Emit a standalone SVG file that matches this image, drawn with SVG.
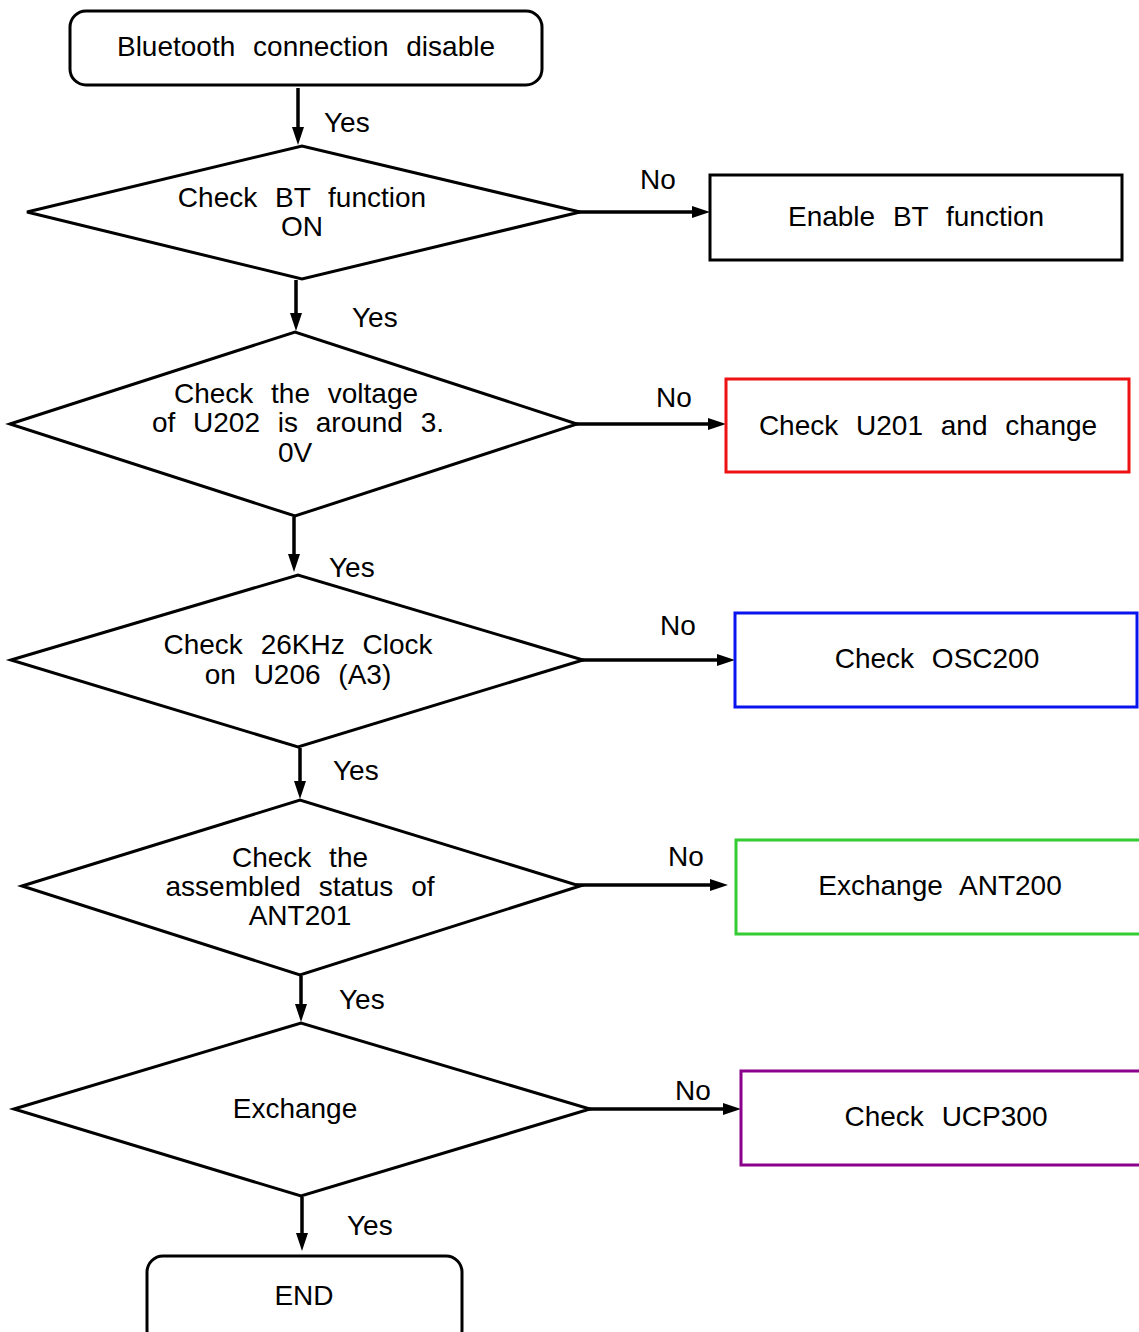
<svg xmlns="http://www.w3.org/2000/svg" width="1139" height="1332" viewBox="0 0 1139 1332">
<defs>
<marker id="ah" markerUnits="userSpaceOnUse" markerWidth="18" markerHeight="12" refX="4" refY="6" orient="auto">
<path d="M0,0 L18,6 L0,12 z" fill="#000"/>
</marker>
<style>
.t{font-family:"Liberation Sans",Arial,sans-serif;font-size:28px;word-spacing:10px;fill:#000;text-anchor:middle}
.l{font-family:"Liberation Sans",Arial,sans-serif;font-size:28px;fill:#000}
.s{fill:#fff;stroke:#000;stroke-width:3}
.c{stroke:#000;stroke-width:3.5;fill:none}
</style>
</defs>
<rect width="1139" height="1332" fill="#fff"/>
<g id="connectors">
<line class="c" x1="298" y1="88" x2="298" y2="131" marker-end="url(#ah)"/>
<line class="c" x1="296" y1="280" x2="296" y2="317" marker-end="url(#ah)"/>
<line class="c" x1="294" y1="517" x2="294" y2="558" marker-end="url(#ah)"/>
<line class="c" x1="300" y1="748" x2="300" y2="785" marker-end="url(#ah)"/>
<line class="c" x1="301" y1="976" x2="301" y2="1008" marker-end="url(#ah)"/>
<line class="c" x1="302" y1="1197" x2="302" y2="1237" marker-end="url(#ah)"/>
<line class="c" x1="575" y1="212" x2="696" y2="212" marker-end="url(#ah)"/>
<line class="c" x1="575" y1="424" x2="712" y2="424" marker-end="url(#ah)"/>
<line class="c" x1="580" y1="660" x2="721" y2="660" marker-end="url(#ah)"/>
<line class="c" x1="576" y1="885" x2="714" y2="885" marker-end="url(#ah)"/>
<line class="c" x1="586" y1="1109" x2="727" y2="1109" marker-end="url(#ah)"/>
<text class="l" x="324" y="132">Yes</text>
<text class="l" x="352" y="327">Yes</text>
<text class="l" x="329" y="577">Yes</text>
<text class="l" x="333" y="780">Yes</text>
<text class="l" x="339" y="1009">Yes</text>
<text class="l" x="347" y="1235">Yes</text>
<text class="l" x="640" y="189">No</text>
<text class="l" x="656" y="407">No</text>
<text class="l" x="660" y="635">No</text>
<text class="l" x="668" y="866">No</text>
<text class="l" x="675" y="1100">No</text>
</g>
<g id="start">
<rect class="s" x="70" y="11" width="472" height="74" rx="16"/>
<text class="t" x="306" y="56">Bluetooth connection disable</text>
</g>
<g id="d1">
<polygon class="s" points="27,212 302,146 580,212 302,279"/>
<text class="t" x="302" y="207">Check BT function</text>
<text class="t" x="302" y="236">ON</text>
</g>
<g id="b1">
<rect class="s" x="710" y="175" width="412" height="85"/>
<text class="t" x="916" y="226">Enable BT function</text>
</g>
<g id="d2">
<polygon class="s" points="10,424 295,332 577,424 295,516"/>
<text class="t" x="296" y="403">Check the voltage</text>
<text class="t" x="298" y="432">of U202 is around 3.</text>
<text class="t" x="295" y="462">0V</text>
</g>
<g id="b2">
<rect class="s" x="726" y="379" width="403" height="93" style="stroke:#ee1111"/>
<text class="t" x="928" y="435">Check U201 and change</text>
</g>
<g id="d3">
<polygon class="s" points="11,660 298,575 583,660 298,747"/>
<text class="t" x="298" y="654">Check 26KHz Clock</text>
<text class="t" x="298" y="684">on U206 (A3)</text>
</g>
<g id="b3">
<rect class="s" x="735" y="613" width="402" height="94" style="stroke:#0a14ee"/>
<text class="t" x="937" y="668">Check OSC200</text>
</g>
<g id="d4">
<polygon class="s" points="22,886 300,800 580,886 300,975"/>
<text class="t" x="300" y="867">Check the</text>
<text class="t" x="300" y="896">assembled status of</text>
<text class="t" x="300" y="925">ANT201</text>
</g>
<g id="b4">
<rect class="s" x="736" y="840" width="410" height="94" style="stroke:#33cc33"/>
<text class="t" x="940" y="895">Exchange ANT200</text>
</g>
<g id="d5">
<polygon class="s" points="14,1109 301,1023 590,1109 301,1196"/>
<text class="t" x="295" y="1118">Exchange</text>
</g>
<g id="b5">
<rect class="s" x="741" y="1071" width="405" height="94" style="stroke:#8b008b"/>
<text class="t" x="946" y="1126">Check UCP300</text>
</g>
<g id="end">
<rect class="s" x="147" y="1256" width="315" height="90" rx="16"/>
<text class="t" x="304" y="1305">END</text>
</g>
</svg>
